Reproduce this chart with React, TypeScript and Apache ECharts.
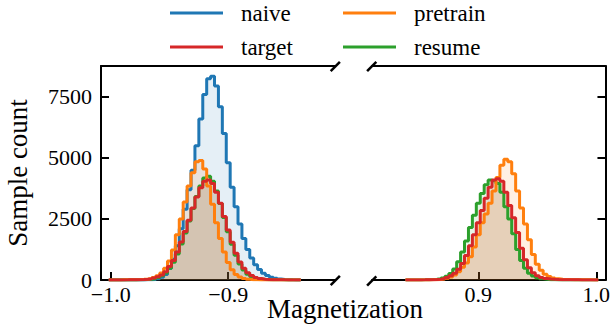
import { useEffect, useRef } from "react";
import * as echarts from "echarts";

// Histogram bin width (magnetisation step)
const BIN = 1 / 300;

// Left panel: bin centres at -1 + k/300, k = 0..48
const leftFirstCentre = -1;
const leftNaive = [
  0, 0, 0, 0, 0, 0, 0, 0, 3, 6, 12, 25, 55, 110, 230, 470, 850, 1400, 2100, 2900, 3700, 4500,
  5500, 6600, 7600, 8250, 8350, 7950, 7100, 6000, 4800, 3800, 3000, 2300, 1700, 1250, 900, 620,
  430, 280, 180, 110, 70, 40, 25, 15, 8, 4, 2,
];
const leftPretrain = [
  3, 4, 5, 6, 7, 9, 12, 18, 28, 42, 65, 105, 170, 290, 480, 780, 1230, 1850, 2500, 3200, 3850,
  4400, 4850, 4900, 4550, 3850, 3100, 2350, 1700, 1150, 720, 420, 230, 120, 60, 30, 15, 8, 4, 2,
  1, 0, 0, 0, 0, 0, 0, 0, 0,
];
const leftTarget = [
  3, 3, 4, 5, 6, 8, 10, 14, 20, 30, 50, 80, 130, 210, 340, 550, 800, 1150, 1560, 1990, 2450,
  2950, 3400, 3780, 4050, 4100, 3950, 3600, 3150, 2600, 2050, 1550, 1100, 740, 480, 300, 180, 105,
  60, 35, 22, 15, 10, 8, 6, 5, 4, 3, 2,
];
const leftResume = [
  1, 1, 2, 2, 3, 4, 5, 7, 10, 18, 32, 55, 100, 170, 290, 480, 730, 1070, 1480, 1930, 2420, 2930,
  3420, 3850, 4180, 4250, 4050, 3650, 3130, 2560, 1980, 1460, 1010, 660, 410, 240, 135, 75, 40,
  22, 13, 9, 7, 6, 5, 4, 3, 3, 2,
];

// Right panel: bin centres at 1 - j/300, j = 0..48 (listed from j = 0 inward)
const rightFirstCentre = 1;
const rightPretrain = [
  5, 5, 6, 7, 8, 10, 12, 16, 22, 32, 50, 80, 140, 240, 400, 650, 1050, 1650, 2300, 2950, 3650,
  4350, 4850, 4950, 4700, 4200, 3650, 3150, 2700, 2350, 1850, 1350, 950, 700, 520, 340, 210, 120,
  70, 40, 22, 12, 7, 4, 2, 1, 0, 0, 0,
];
const rightTarget = [
  3, 3, 4, 4, 5, 6, 7, 9, 11, 15, 20, 28, 40, 60, 100, 170, 300, 500, 830, 1300, 1950, 2550,
  3050, 3600, 4050, 4150, 4100, 3800, 3350, 2850, 2350, 1850, 1400, 1000, 680, 440, 280, 170, 100,
  60, 35, 22, 14, 10, 7, 5, 4, 3, 2,
];
const rightResume = [
  0, 0, 0, 0, 1, 1, 2, 3, 4, 5, 5, 8, 15, 28, 50, 90, 160, 280, 480, 800, 1250, 1900, 2500, 3000,
  3600, 3950, 4070, 4100, 3900, 3550, 3150, 2650, 2150, 1600, 1150, 750, 450, 270, 150, 85, 48,
  27, 16, 10, 7, 5, 4, 3, 2,
];

// Axis ticks and ranges
const yTicks = [0, 2500, 5000, 7500];
const leftXTicks = [-1.0, -0.9];
const rightXTicks = [0.9, 1.0];
const leftRange = [-1.0083, -0.8091];
const rightRange = [0.8099, 1.0078];
const yMax = 8770;

const COLORS: Record<string, string> = {
  naive: "#1f77b4",
  pretrain: "#ff7f0e",
  target: "#d62728",
  resume: "#2ca02c",
};

const FONT = "Liberation Serif";

function rgba(hex: string, a: number) {
  const n = parseInt(hex.slice(1), 16);
  return `rgba(${(n >> 16) & 255},${(n >> 8) & 255},${n & 255},${a})`;
}

// Step outline points: left edges of each bin, closed down to zero at both ends
function stepPoints(firstCentre: number, dir: number, counts: number[]) {
  const bins = counts.map((v, i) => [firstCentre + dir * i * BIN, v] as [number, number]);
  bins.sort((a, b) => a[0] - b[0]);
  const pts: [number, number][] = [[bins[0][0] - BIN / 2, 0]];
  bins.forEach(([c, v]) => pts.push([c - BIN / 2, v]));
  const last = bins[bins.length - 1];
  pts.push([last[0] + BIN / 2, last[1]]);
  pts.push([last[0] + BIN / 2, 0]);
  return pts;
}

function histSeries(name: string, panel: number, data: [number, number][]) {
  return {
    name,
    type: "line",
    xAxisIndex: panel * 2,
    yAxisIndex: panel,
    step: "end",
    symbol: "none",
    data,
    lineStyle: { color: COLORS[name], width: 3 },
    itemStyle: { color: COLORS[name] },
    areaStyle: { color: rgba(COLORS[name], 0.17) },
  };
}

const fmtX = (v: number) => (v < 0 ? "\u2212" : "") + Math.abs(v).toFixed(1);

function bottomX(gridIndex: number, range: number[], ticks: number[]) {
  return {
    type: "value",
    gridIndex,
    position: "bottom",
    min: range[0],
    max: range[1],
    axisLine: { show: true, onZero: false, lineStyle: { color: "#000", width: 2 } },
    axisTick: { show: true, inside: true, length: 8, lineStyle: { color: "#000", width: 2 }, customValues: ticks },
    axisLabel: {
      show: true,
      customValues: ticks,
      formatter: fmtX,
      margin: 3,
      color: "#000",
      fontSize: 22,
      fontFamily: FONT,
    },
    splitLine: { show: false },
  };
}

function topX(gridIndex: number, range: number[]) {
  return {
    type: "value",
    gridIndex,
    position: "top",
    min: range[0],
    max: range[1],
    axisLine: { show: true, onZero: false, lineStyle: { color: "#000", width: 2 } },
    axisTick: { show: false },
    axisLabel: { show: false },
    splitLine: { show: false },
  };
}

export default function App() {
  const ref = useRef<HTMLDivElement>(null);

  useEffect(() => {
    if (!ref.current) return;
    const chart = echarts.init(ref.current, undefined, { renderer: "svg" });

    const breakMark = (cx: number, cy: number) => ({
      type: "line",
      shape: { x1: cx - 4.6, y1: cy + 4.6, x2: cx + 4.6, y2: cy - 4.6 },
      style: { stroke: "#000", lineWidth: 2.5 },
      z: 100,
    });

    const legendItem = (name: string, x: number, y: number) => [
      {
        type: "line",
        shape: { x1: x, y1: y, x2: x + 53, y2: y },
        style: { stroke: COLORS[name], lineWidth: 3 },
      },
      {
        type: "text",
        x: x + 71,
        y: y,
        style: {
          text: name,
          fill: "#000",
          fontSize: 23,
          fontFamily: FONT,
          verticalAlign: "middle",
          align: "left",
        },
      },
    ];

    chart.setOption({
      animation: false,
      backgroundColor: "#fff",
      textStyle: { fontFamily: FONT },
      grid: [
        { left: 101, top: 66, width: 234, height: 214 },
        { left: 372, top: 66, width: 235, height: 214 },
      ],
      xAxis: [
        bottomX(0, leftRange, leftXTicks),
        topX(0, leftRange),
        bottomX(1, rightRange, rightXTicks),
        topX(1, rightRange),
      ],
      yAxis: [
        {
          type: "value",
          gridIndex: 0,
          position: "left",
          min: 0,
          max: yMax,
          interval: 2500,
          name: "Sample count",
          nameLocation: "middle",
          nameGap: 70,
          nameTextStyle: { fontSize: 27, fontFamily: FONT, color: "#000" },
          axisLine: { show: true, lineStyle: { color: "#000", width: 2 } },
          axisTick: { show: true, inside: true, length: 8, lineStyle: { color: "#000", width: 2 }, customValues: yTicks },
          axisLabel: {
            customValues: yTicks,
            formatter: (v: number) => String(v),
            margin: 9,
            color: "#000",
            fontSize: 22,
            fontFamily: FONT,
          },
          splitLine: { show: false },
        },
        {
          type: "value",
          gridIndex: 1,
          position: "right",
          min: 0,
          max: yMax,
          interval: 2500,
          axisLine: { show: true, lineStyle: { color: "#000", width: 2 } },
          axisTick: { show: true, inside: true, length: 8, lineStyle: { color: "#000", width: 2 }, customValues: yTicks },
          axisLabel: { show: false },
          splitLine: { show: false },
        },
      ],
      series: [
        histSeries("naive", 0, stepPoints(leftFirstCentre, 1, leftNaive)),
        histSeries("resume", 0, stepPoints(leftFirstCentre, 1, leftResume)),
        histSeries("pretrain", 0, stepPoints(leftFirstCentre, 1, leftPretrain)),
        histSeries("target", 0, stepPoints(leftFirstCentre, 1, leftTarget)),
        histSeries("resume", 1, stepPoints(rightFirstCentre, -1, rightResume)),
        histSeries("pretrain", 1, stepPoints(rightFirstCentre, -1, rightPretrain)),
        histSeries("target", 1, stepPoints(rightFirstCentre, -1, rightTarget)),
      ],
      graphic: [
        breakMark(335.3, 66.5),
        breakMark(335.3, 280.5),
        breakMark(371.7, 66.5),
        breakMark(371.7, 281),
        ...legendItem("naive", 170, 13),
        ...legendItem("pretrain", 343, 13),
        ...legendItem("target", 170, 47),
        ...legendItem("resume", 343, 47),
        {
          type: "text",
          x: 345,
          y: 309,
          style: {
            text: "Magnetization",
            fill: "#000",
            fontSize: 27,
            fontFamily: FONT,
            align: "center",
            verticalAlign: "middle",
          },
        },
      ],
    });

    return () => chart.dispose();
  }, []);

  return (
    <div
      ref={ref}
      style={{ position: "fixed", left: 0, top: 0, width: 613, height: 325, background: "#fff" }}
    />
  );
}
